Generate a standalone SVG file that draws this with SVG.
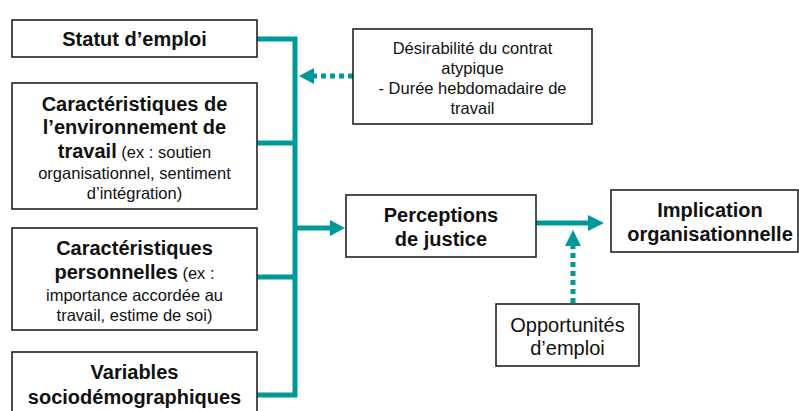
<svg xmlns="http://www.w3.org/2000/svg" width="799" height="411" viewBox="0 0 799 411">
<style>
.box{fill:#fff;stroke:#222;stroke-width:1.6}
text{font-family:"Liberation Sans",Arial,sans-serif;fill:#111;text-anchor:middle}
.b{font-weight:bold;font-size:20px}
.r{font-size:16.5px}
.o{font-size:20px}
.c{fill:none;stroke:#009999;stroke-width:5}
.d{fill:none;stroke:#009999;stroke-width:5;stroke-dasharray:5 4}
.h{fill:#009999}
</style>
<rect width="799" height="411" fill="#fff"/>
<g id="connectors">
<polyline class="c" points="257,39 295,39 295,395 257,395"/>
<line class="c" x1="257" y1="143" x2="295" y2="143"/>
<line class="c" x1="257" y1="277" x2="295" y2="277"/>
<line class="c" x1="295" y1="228" x2="332" y2="228"/>
<polygon class="h" points="330,220 345,228 330,236"/>
<line class="c" x1="536" y1="223" x2="590" y2="223"/>
<polygon class="h" points="588,215 604,223 588,231"/>
<line class="d" x1="353" y1="76" x2="313" y2="76"/>
<polygon class="h" points="314,68 299,76 314,84"/>
<line class="d" x1="573" y1="303" x2="573" y2="245"/>
<polygon class="h" points="565,246 573,230 581,246"/>
</g>
<g id="statut">
<rect class="box" x="12" y="20" width="245" height="37"/>
<text class="b" x="134.5" y="46">Statut d’emploi</text>
</g>
<g id="environnement">
<rect class="box" x="12" y="83" width="245" height="126"/>
<text class="b" x="134.5" y="111">Caractéristiques de</text>
<text class="b" x="134.5" y="134">l’environnement de</text>
<text x="134.5" y="158"><tspan class="b">travail</tspan><tspan class="r"> (ex : soutien</tspan></text>
<text class="r" x="134.5" y="179">organisationnel, sentiment</text>
<text class="r" x="134.5" y="199">d’intégration)</text>
</g>
<g id="personnelles">
<rect class="box" x="12" y="228" width="245" height="102"/>
<text class="b" x="134.5" y="255">Caractéristiques</text>
<text x="134.5" y="279"><tspan class="b">personnelles</tspan><tspan class="r"> (ex :</tspan></text>
<text class="r" x="134.5" y="301">importance accordée au</text>
<text class="r" x="134.5" y="321">travail, estime de soi)</text>
</g>
<g id="variables">
<rect class="box" x="12" y="352" width="245" height="70"/>
<text class="b" x="134.5" y="379">Variables</text>
<text class="b" x="134.5" y="404">sociodémographiques</text>
</g>
<g id="desirabilite">
<rect class="box" x="353" y="29" width="239" height="95"/>
<text class="r" x="472.5" y="54">Désirabilité du contrat</text>
<text class="r" x="472.5" y="74">atypique</text>
<text class="r" x="472.5" y="94">- Durée hebdomadaire de</text>
<text class="r" x="472.5" y="114">travail</text>
</g>
<g id="perceptions">
<rect class="box" x="346" y="195" width="190" height="62"/>
<text class="b" x="441" y="222">Perceptions</text>
<text class="b" x="441" y="246">de justice</text>
</g>
<g id="implication">
<rect class="box" x="611" y="190" width="187" height="62"/>
<text class="b" x="710" y="217">Implication</text>
<text class="b" x="710" y="241">organisationnelle</text>
</g>
<g id="opportunites">
<rect class="box" x="496" y="304" width="143" height="62"/>
<text class="o" x="567.5" y="332">Opportunités</text>
<text class="o" x="567.5" y="355">d’emploi</text>
</g>
</svg>
